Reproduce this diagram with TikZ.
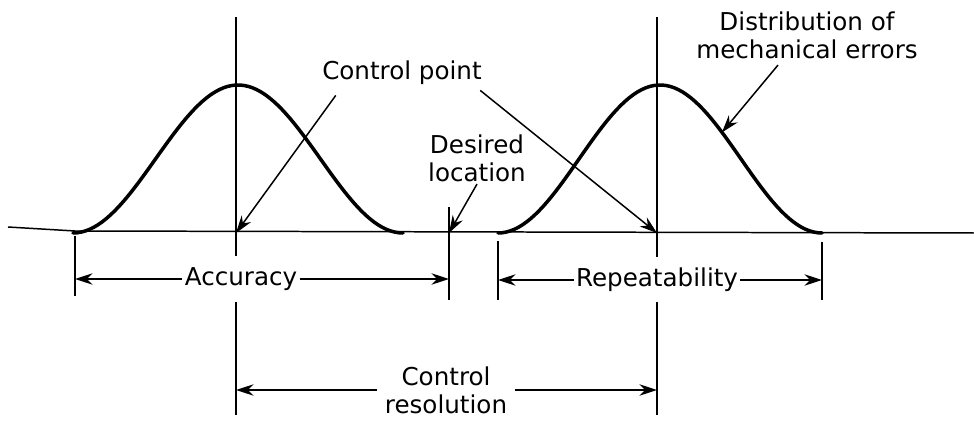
\documentclass[tikz,border=0pt]{standalone}
\usepackage{fontspec}
\setmainfont{DejaVu Sans}
\usetikzlibrary{arrows.meta}
\begin{document}
\begin{tikzpicture}[x=0.02cm,y=-0.02cm,line width=0.85pt,>={Stealth[length=10pt,width=6.5pt]},
lbl/.style={font=\fontsize{14}{16}\selectfont,align=center,inner sep=1pt},
bell/.style={line width=2pt,line cap=round}]
\useasboundingbox (0,0) rectangle (974,422);
\coordinate (cL) at (236,233);
\coordinate (cR) at (657,233);
\coordinate (des) at (449,233);
\coordinate (aL) at (75,233);
\coordinate (rL) at (498,233);
\coordinate (rR) at (822,233);
\coordinate (onbell) at ({660+62},{233-74*(1+cos(62/162*180))});
\draw(8,227)--(75,231)--(974,233);
\draw(cL|-0,17)--(cL|-0,256) (cL|-0,302)--(cL|-0,415);
\draw(cR|-0,17)--(cR|-0,257) (cR|-0,302)--(cR|-0,415);
\draw[bell] plot[domain=-165:165,samples=80] ({238+\x},{233-74*(1+cos(\x/165*180))});
\draw[bell] plot[domain=-162:162,samples=80] ({660+\x},{233-74*(1+cos(\x/162*180))});
\draw(aL|-0,236)--(aL|-0,296)
(des|-0,207)--(des|-0,300)
(rL|-0,241)--(rL|-0,300)
(rR|-0,242)--(rR|-0,300);
\node[lbl](cp) at (402,73){Control point};
\node[lbl](dl) at (477,158){Desired\\location};
\node[lbl](dist) at (807,35){Distribution of\\mechanical errors};
\node[lbl](acc) at (241,279){Accuracy};
\node[lbl](rep) at (657,280){Repeatability};
\node[lbl,inner sep=4pt](res) at (446,390){Control\\resolution};
\draw[->]([shift={(16,8)}]cp.south west)--(cL);
\draw[->]([shift={(-4,3)}]cp.south east)--(cR);
\draw[->](dl.south)--(des);
\draw[->]([shift={(-29,4)}]dist.south)--(onbell);
\draw[->](acc.west)--(acc.west-|aL);
\draw[->](acc.east)--(acc.east-|des);
\draw[->](rep.west)--(rep.west-|rL);
\draw[->](rep.east)--(rep.east-|rR);
\draw[->](res.west)--(res.west-|cL);
\draw[->](res.east)--(res.east-|cR);
\end{tikzpicture}
\end{document}
